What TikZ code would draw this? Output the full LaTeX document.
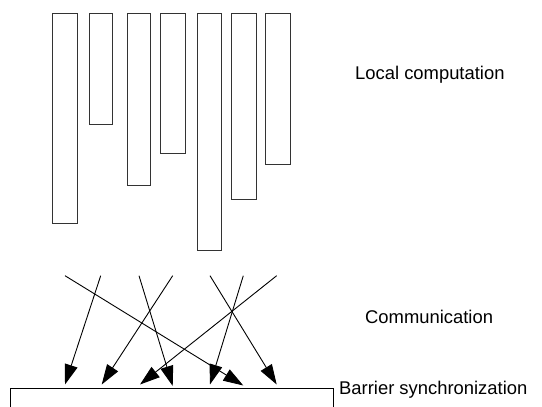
\documentclass[tikz,border=0pt]{standalone}
\usepackage{fontspec}
\setmainfont{Liberation Sans}
\usetikzlibrary{arrows.meta}
\begin{document}
\begin{tikzpicture}[x=1pt,y=-1pt,
  bar/.style={draw=black!80, line width=0.9pt, inner sep=0pt, outer sep=0pt, anchor=north west},
  msg/.style={draw=black, line width=0.9pt, -{Triangle[length=20pt,width=13pt]}},
  lbl/.style={font=\fontsize{18.4}{22}\selectfont, inner sep=0pt, anchor=west}]
\path[use as bounding box, clip] (0,0) rectangle (542,407);
% local computation bars
\node[bar, minimum width=25.4pt, minimum height=210pt] (b1) at (52.3,13.3) {};
\node[bar, minimum width=23.7pt, minimum height=110.7pt] (b2) at (89,13.3) {};
\node[bar, minimum width=23.7pt, minimum height=171.7pt] (b3) at (127,13.3) {};
\node[bar, minimum width=25.7pt, minimum height=140pt] (b4) at (160,13.3) {};
\node[bar, minimum width=23.3pt, minimum height=237.4pt] (b5) at (197.7,13.3) {};
\node[bar, minimum width=25.3pt, minimum height=186pt] (b6) at (231,13.3) {};
\node[bar, minimum width=25pt, minimum height=151pt] (b7) at (265.3,13.3) {};
% communication
\coordinate (s1) at (65,275.7);
\coordinate (s2) at (100.7,275.7);
\coordinate (s3) at (139,275.7);
\coordinate (s4) at (172.7,275.7);
\coordinate (s5) at (210,275.7);
\coordinate (s6) at (243.3,275.7);
\coordinate (s7) at (276.7,275.7);
\coordinate (t1) at (65,384.5);
\coordinate (t2) at (101.7,384.5);
\coordinate (t3) at (140,384.5);
\coordinate (t4) at (172.7,386);
\coordinate (t5) at (210,384.5);
\coordinate (t6) at (243.3,385.5);
\coordinate (t7) at (276.7,384.5);
\draw[msg] (s2) -- (t1);
\draw[msg] (s1) -- (t6);
\draw[msg] (s3) -- (t4);
\draw[msg] (s4) -- (t2);
\draw[msg] (s5) -- (t7);
\draw[msg] (s6) -- (t5);
\draw[msg] (s7) -- (t3);
% barrier
\node[draw, line width=0.9pt, inner sep=0pt, outer sep=0pt, anchor=north west,
      minimum width=323.3pt, minimum height=40pt] (bar) at (10,388.3) {};
% labels
\node[lbl] (lc) at (355,75) {Local computation};
\node[lbl] (cm) at (365,316.7) {Communication};
\node[lbl] (bs) at (339,390) {Barrier synchronization};
\end{tikzpicture}
\end{document}
